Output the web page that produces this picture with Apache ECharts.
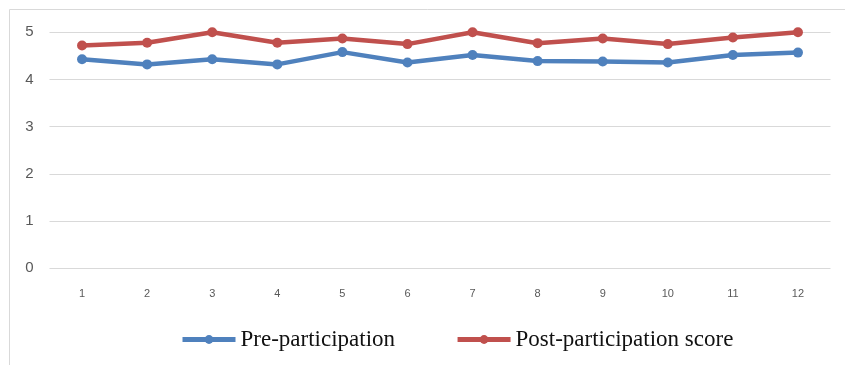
<!DOCTYPE html>
<html>
<head>
<meta charset="utf-8">
<script src="https://cdn.jsdelivr.net/npm/echarts@6/dist/echarts.min.js"></script>
<style>
  html, body { margin: 0; padding: 0; background: #fff; }
  #chart { width: 845px; height: 365px; }
</style>
</head>
<body>
<div id="chart"></div>
<script>
const categories = ['1', '2', '3', '4', '5', '6', '7', '8', '9', '10', '11', '12']
const preScores = [4.43, 4.32, 4.43, 4.32, 4.58, 4.36, 4.52, 4.39, 4.38, 4.36, 4.52, 4.57]
const postScores = [4.72, 4.78, 5.0, 4.78, 4.87, 4.75, 5.0, 4.77, 4.87, 4.75, 4.89, 5.0]
const yTicks = { min: 0, max: 5, interval: 1 }

const chart = echarts.init(document.getElementById('chart'))
chart.setOption({
  animation: false,
  graphic: [
    {
      type: 'rect',
      shape: { x: 9.5, y: 9.5, width: 900, height: 420 },
      style: { fill: 'none', stroke: '#d9d9d9', lineWidth: 1 },
      silent: true,
    },
  ],
  grid: { left: 49.5, right: 14.5, top: 32.3, bottom: 96.7 },
  legend: {
    left: 175,
    top: 323,
    itemWidth: 53,
    itemHeight: 11,
    itemGap: 60,
    lineStyle: { width: 5 },
    textStyle: { fontFamily: 'Liberation Serif', fontSize: 23, color: '#111' },
    data: ['Pre-participation', 'Post-participation score'],
  },
  xAxis: {
    type: 'category',
    data: categories,
    axisLine: { show: false },
    axisTick: { show: false },
    axisLabel: { color: '#595959', fontSize: 11, fontFamily: 'Liberation Sans', margin: 20 },
  },
  yAxis: {
    type: 'value',
    min: yTicks.min,
    max: yTicks.max,
    interval: yTicks.interval,
    axisLabel: { color: '#595959', fontSize: 15, fontFamily: 'Liberation Sans', margin: 16 },
    splitLine: { lineStyle: { color: '#d9d9d9', width: 1 } },
  },
  series: [
    {
      name: 'Pre-participation',
      type: 'line',
      data: preScores,
      symbol: 'circle',
      symbolSize: 10,
      itemStyle: { color: '#4F81BD' },
      lineStyle: { width: 4.5, color: '#4F81BD' },
    },
    {
      name: 'Post-participation score',
      type: 'line',
      data: postScores,
      symbol: 'circle',
      symbolSize: 10,
      itemStyle: { color: '#C0504D' },
      lineStyle: { width: 4.5, color: '#C0504D' },
    },
  ],
})
</script>
</body>
</html>
